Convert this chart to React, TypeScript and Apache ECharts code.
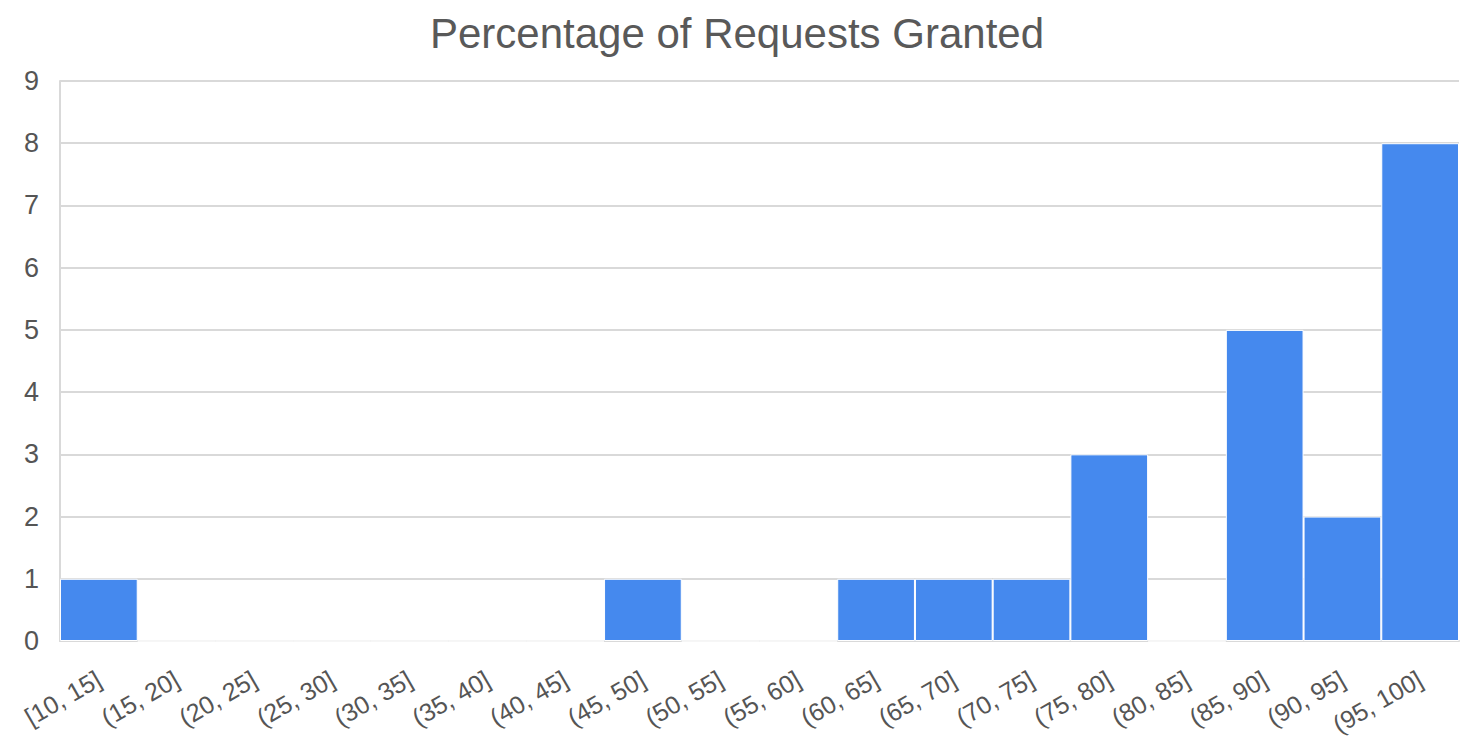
import React, { useEffect, useRef } from "react";
import * as echarts from "echarts";

const title = "Percentage of Requests Granted";
const categories = [
  "[10, 15]", "(15, 20]", "(20, 25]", "(25, 30]", "(30, 35]", "(35, 40]",
  "(40, 45]", "(45, 50]", "(50, 55]", "(55, 60]", "(60, 65]", "(65, 70]",
  "(70, 75]", "(75, 80]", "(80, 85]", "(85, 90]", "(90, 95]", "(95, 100]",
];
const counts = [1, 0, 0, 0, 0, 0, 0, 1, 0, 0, 1, 1, 1, 3, 0, 5, 2, 8];

const FONT = "'Liberation Sans', Arial, Helvetica, sans-serif";

export default function App() {
  const ref = useRef<HTMLDivElement>(null);
  useEffect(() => {
    document.body.style.margin = "0";
    if (!ref.current) return;
    const chart = echarts.init(ref.current, null, { renderer: "svg" });
    chart.setOption({
      animation: false,
      backgroundColor: "#ffffff",
      title: {
        text: title,
        left: "center",
        top: 7,
        textStyle: { fontFamily: FONT, fontSize: 42, fontWeight: "normal", color: "#595959" },
      },
      grid: { left: 60, right: 15, top: 81, bottom: 115, containLabel: false },
      xAxis: {
        type: "category",
        data: categories,
        axisLine: { show: true, lineStyle: { color: "#d9d9d9", width: 2 } },
        axisTick: { show: false },
        axisLabel: {
          interval: 0,
          rotate: 30,
          margin: 36,
          fontFamily: FONT,
          fontSize: 25,
          color: "#555555",
        },
      },
      yAxis: {
        type: "value",
        min: 0,
        max: 9,
        interval: 1,
        axisLine: { show: true, lineStyle: { color: "#d9d9d9", width: 2 } },
        axisTick: { show: false },
        axisLabel: { fontFamily: FONT, fontSize: 27, color: "#555555", margin: 21 },
        splitLine: { show: true, lineStyle: { color: "#d9d9d9", width: 2 } },
      },
      series: [
        {
          type: "bar",
          data: counts,
          barCategoryGap: "0%",
          itemStyle: { color: "#4589ee", borderColor: "#ffffff", borderWidth: 1 },
        },
      ],
    });
    return () => chart.dispose();
  }, []);
  return <div ref={ref} style={{ width: 1474, height: 756 }} />;
}
